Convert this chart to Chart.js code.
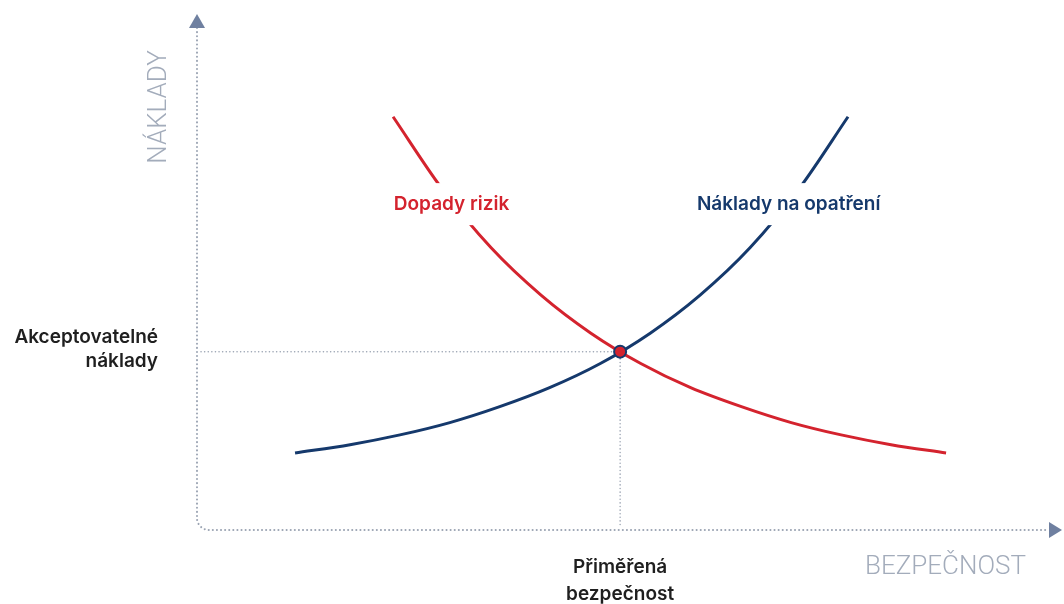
<!DOCTYPE html>
<html>
<head>
<meta charset="utf-8">
<script src="https://cdn.jsdelivr.net/npm/chart.js@4"></script>
<style>
  html, body { margin: 0; padding: 0; background: #ffffff; }
  #wrap { width: 1064px; height: 604px; }
</style>
</head>
<body>
<div id="wrap"><canvas id="c" width="1064" height="604"></canvas></div>
<script>
// Security level (x) against cost (y), both on an abstract 0–100 scale
const measuresX = [11.4, 17.8, 23.6, 29.4, 35.2, 41.0, 46.9, 52.7, 58.5, 64.3, 70.1, 75.7];
const measuresY = [15.0, 16.6, 18.5, 20.9, 24.0, 27.7, 32.4, 38.3, 45.7, 54.9, 66.6, 80.4];
const risksX    = [22.8, 28.4, 34.2, 40.0, 45.8, 51.6, 57.4, 63.3, 69.1, 74.9, 80.7, 87.1];
const risksY    = [80.4, 66.6, 54.9, 45.7, 38.3, 32.4, 27.7, 24.0, 20.9, 18.5, 16.6, 15.0];
const optimum   = [49.2, 34.7];

const seriesNames = ['Náklady na opatření', 'Dopady rizik'];
const axisTitles  = ['BEZPEČNOST', 'NÁKLADY'];
const optimumXLabel = ['Přiměřená', 'bezpečnost'];
const optimumYLabel = ['Akceptovatelné', 'náklady'];
// where each curve label sits, in data units
const labelAt = [[68.8, 63.4], [29.6, 63.4]];

const NAVY = '#15396c';
const RED = '#d4232e';
const AXIS = '#9ba4b3';
const ARROW = '#6f80a0';
const TEXT = '#1f1f1f';
const TITLE = '#a3acbb';
const LABEL_FONT = '600 19px Inter';

const zip = (xs, ys) => xs.map((x, i) => ({ x, y: ys[i] }));

const decor = {
  id: 'decor',
  beforeDatasetsDraw(chart) {
    const { ctx, chartArea: a, scales: { x, y } } = chart;
    const px = x.getPixelForValue(optimum[0]);
    const py = y.getPixelForValue(optimum[1]);
    ctx.save();
    ctx.lineCap = 'round';
    // dotted axes with a rounded corner at the origin
    ctx.strokeStyle = AXIS;
    ctx.lineWidth = 2;
    ctx.setLineDash([0.1, 4]);
    ctx.beginPath();
    ctx.moveTo(a.left, a.top + 12);
    ctx.arcTo(a.left, a.bottom, a.left + 12, a.bottom, 12);
    ctx.lineTo(a.right - 8, a.bottom);
    ctx.stroke();
    // dotted guides to the optimum
    ctx.lineWidth = 1.5;
    ctx.setLineDash([0.1, 3.5]);
    ctx.beginPath();
    ctx.moveTo(a.left + 4, py);
    ctx.lineTo(px, py);
    ctx.moveTo(px, py);
    ctx.lineTo(px, a.bottom - 3);
    ctx.stroke();
    ctx.setLineDash([]);
    // arrow heads
    ctx.fillStyle = ARROW;
    ctx.beginPath();
    ctx.moveTo(a.left, a.top - 2);
    ctx.lineTo(a.left - 8, a.top + 12);
    ctx.lineTo(a.left + 8, a.top + 12);
    ctx.closePath();
    ctx.fill();
    ctx.beginPath();
    ctx.moveTo(a.right + 5, a.bottom);
    ctx.lineTo(a.right - 8, a.bottom - 8);
    ctx.lineTo(a.right - 8, a.bottom + 8);
    ctx.closePath();
    ctx.fill();
    ctx.restore();
  },
  afterDatasetsDraw(chart) {
    const { ctx, chartArea: a, scales: { x, y } } = chart;
    const px = x.getPixelForValue(optimum[0]);
    const py = y.getPixelForValue(optimum[1]);
    ctx.save();
    // curve labels on a white ground that breaks the line
    ctx.font = LABEL_FONT;
    ctx.textAlign = 'center';
    ctx.textBaseline = 'middle';
    const colors = [NAVY, RED];
    seriesNames.forEach((name, i) => {
      const lx = x.getPixelForValue(labelAt[i][0]);
      const ly = y.getPixelForValue(labelAt[i][1]);
      const w = ctx.measureText(name).width;
      ctx.fillStyle = '#ffffff';
      ctx.fillRect(lx - w / 2 - 6, ly - 21, w + 12, 42);
      ctx.fillStyle = colors[i];
      ctx.fillText(name, lx, ly);
    });
    // optimum marker
    ctx.beginPath();
    ctx.arc(px, py, 6, 0, Math.PI * 2);
    ctx.fillStyle = RED;
    ctx.fill();
    ctx.lineWidth = 2;
    ctx.strokeStyle = NAVY;
    ctx.stroke();
    // optimum labels
    ctx.fillStyle = TEXT;
    ctx.font = LABEL_FONT;
    ctx.textAlign = 'center';
    ctx.fillText(optimumXLabel[0], px, a.bottom + 37);
    ctx.fillText(optimumXLabel[1], px, a.bottom + 64);
    ctx.textAlign = 'right';
    ctx.fillText(optimumYLabel[0], a.left - 39, py - 14);
    ctx.fillText(optimumYLabel[1], a.left - 39, py + 10);
    // axis titles
    ctx.fillStyle = TITLE;
    ctx.font = '300 26px Roboto';
    ctx.textAlign = 'right';
    ctx.fillText(axisTitles[0], a.right - 31, a.bottom + 37);
    ctx.translate(a.left - 38, a.top + 91);
    ctx.rotate(-Math.PI / 2);
    ctx.textAlign = 'center';
    ctx.fillText(axisTitles[1], 0, 0);
    ctx.restore();
  }
};

new Chart(document.getElementById('c'), {
  type: 'scatter',
  data: {
    datasets: [
      { label: seriesNames[0], data: zip(measuresX, measuresY), borderColor: NAVY },
      { label: seriesNames[1], data: zip(risksX, risksY), borderColor: RED }
    ].map(d => Object.assign(d, {
      showLine: true,
      borderWidth: 3,
      pointRadius: 0,
      cubicInterpolationMode: 'monotone',
      fill: false
    }))
  },
  options: {
    responsive: false,
    animation: false,
    layout: { padding: { left: 197, right: 7, top: 16, bottom: 74 } },
    plugins: { legend: { display: false }, tooltip: { enabled: false } },
    scales: {
      x: { type: 'linear', min: 0, max: 100, display: false },
      y: { type: 'linear', min: 0, max: 100, display: false }
    }
  },
  plugins: [decor]
});
</script>
</body>
</html>
